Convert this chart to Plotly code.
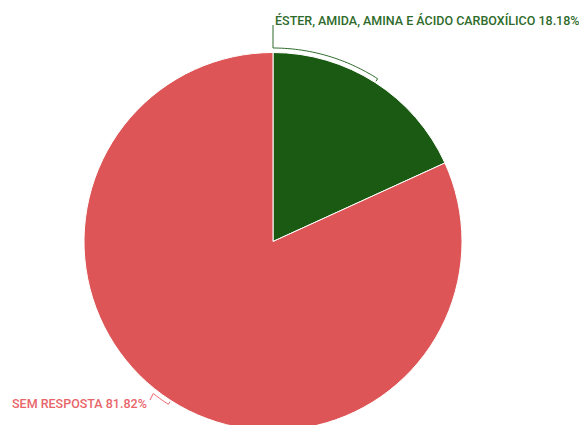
import numpy as np
import plotly.graph_objects as go

labels = ["ÉSTER, AMIDA, AMINA E ÁCIDO CARBOXÍLICO", "SEM RESPOSTA"]
values = [18.18, 81.82]
colors = ["#1b5a12", "#dd5556"]
text_colors = ["#2e6b2a", "#e8656a"]

# page geometry (pixels)
OX, OY = 8, 8          # body margin offset of the plot div
W, H = 579, 430
CX, CY, R = 273, 241.5, 189


def px(x):
    return (x - OX) / W


def py(y):
    return 1 - (y - OY) / H


def polar(angle_deg, rad):
    a = np.radians(angle_deg)
    return CX + rad * np.sin(a), CY - rad * np.cos(a)


fig = go.Figure(go.Pie(
    labels=labels, values=values, sort=False, direction="clockwise", rotation=0,
    marker=dict(colors=colors, line=dict(color="white", width=1)),
    textinfo="none", hoverinfo="label+percent",
    domain=dict(x=[px(CX - R), px(CX + R)], y=[max(0, py(CY + R)), py(CY - R)]),
))

total = sum(values)
fracs = [v / total for v in values]
starts = np.cumsum([0] + fracs[:-1]) * 360
mids = starts + np.array(fracs) * 180


def path_from(points):
    return "M " + " L ".join(f"{px(x):.5f},{py(y):.5f}" for x, y in points)


shapes = []
RA = R + 4.5
# slice 1: arc from mid back to start, then up to the label
arc = [polar(a, RA) for a in np.linspace(mids[0], starts[0], 40)]
tick = [polar(mids[0], R + 1.5)]
lbl1 = (CX, 25)
pts1 = tick + arc + [lbl1]
shapes.append(dict(type="path", xref="paper", yref="paper", path=path_from(pts1),
                   line=dict(color=text_colors[0], width=1)))
# slice 2: tick at mid, short arc, then to the label
arc2 = [polar(a, RA) for a in np.linspace(mids[1], mids[1] + 5.5, 10)]
tick2 = [polar(mids[1], R + 1.5)]
lbl2 = (150, 400)
pts2 = tick2 + arc2 + [lbl2]
shapes.append(dict(type="path", xref="paper", yref="paper", path=path_from(pts2),
                   line=dict(color=text_colors[1], width=1)))

font = dict(family="Roboto", size=12.5, weight=500)
annotations = [
    dict(x=px(CX), y=py(20), xref="paper", yref="paper", xanchor="left", yanchor="middle",
         text=f"{labels[0]} {fracs[0]*100:.2f}%", showarrow=False,
         font=dict(color=text_colors[0], **font)),
    dict(x=px(149), y=py(403), xref="paper", yref="paper", xanchor="right", yanchor="middle",
         text=f"{labels[1]} {fracs[1]*100:.2f}%", showarrow=False,
         font=dict(color=text_colors[1], **font)),
]

fig.update_layout(width=W, height=H, margin=dict(l=0, r=0, t=0, b=0),
                  paper_bgcolor="white", plot_bgcolor="white", showlegend=False,
                  shapes=shapes, annotations=annotations)
fig.write_html("out.html")
